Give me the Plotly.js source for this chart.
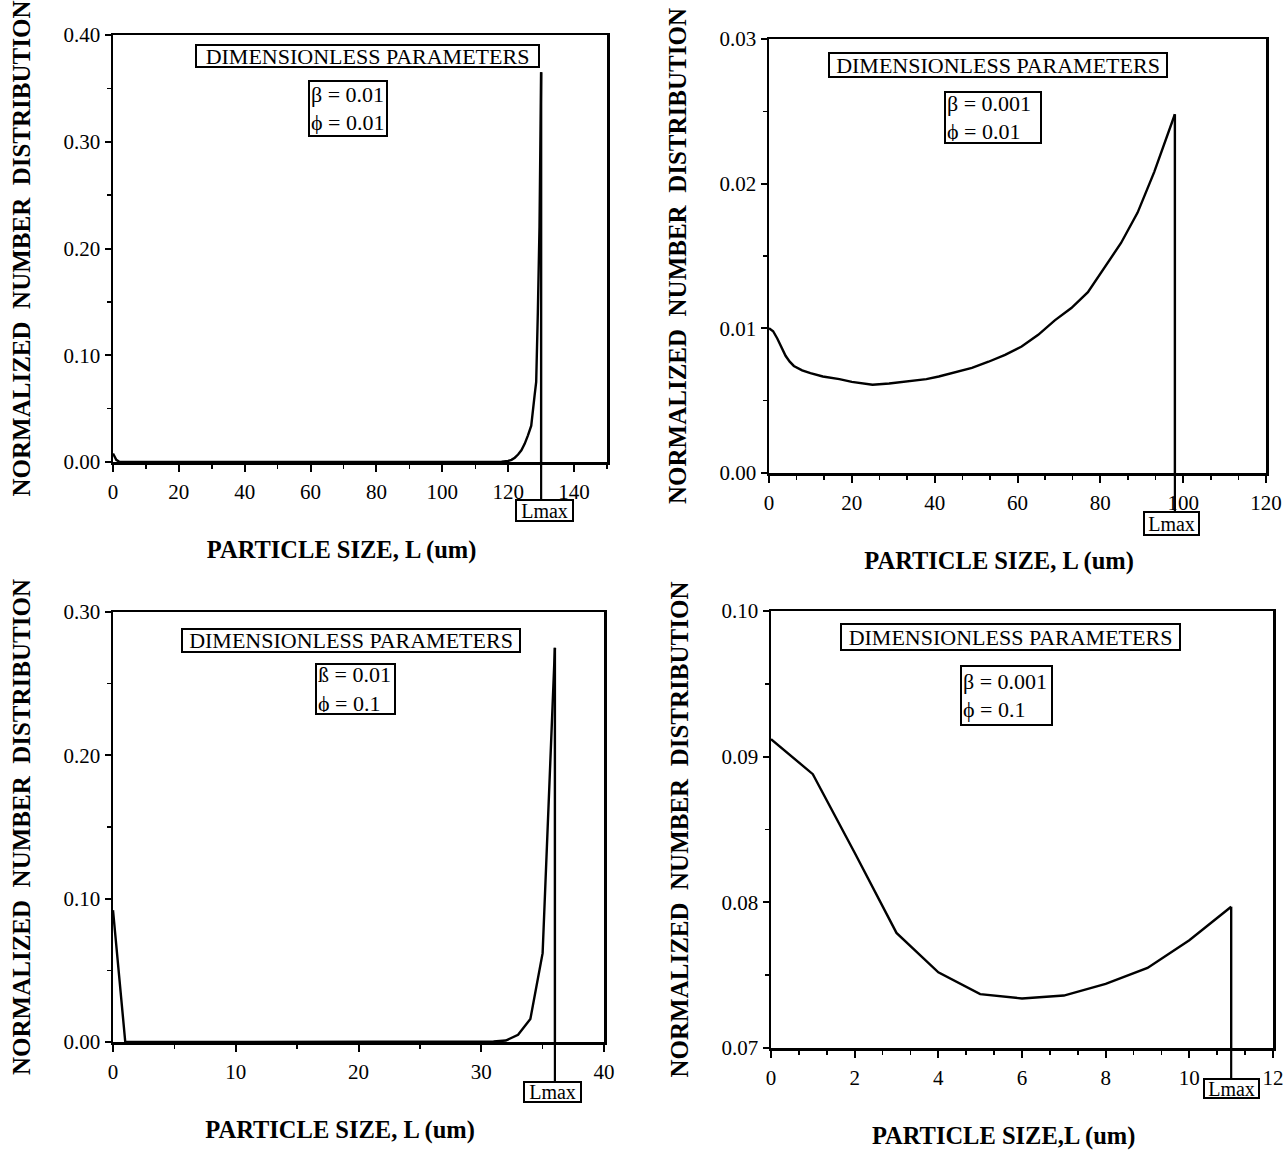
<!DOCTYPE html>
<html>
<head>
<meta charset="utf-8">
<script src="https://cdn.plot.ly/plotly-3.0.1.min.js"></script>
<style>html,body{margin:0;padding:0;background:#fff;}</style>
</head>
<body>
<div id="chart" style="width:1285px;height:1150px;"></div>
<script>
// ---------------- DATA ----------------
// Panel A: beta = 0.01, phi = 0.01
const L_a = [0, 1, 2, 20, 40, 60, 80, 100, 115, 118, 120, 121, 122, 123, 124, 125, 126, 127, 128, 128.5, 129, 129.5, 130];
const N_a = [0.008, 0.002, 0, 0, 0, 0, 0, 0, 0, 0.0003, 0.001, 0.002, 0.004, 0.007, 0.011, 0.017, 0.025, 0.034, 0.062, 0.075, 0.14, 0.22, 0.365];
const Lmax_a = 130;

// Panel B: beta = 0.001, phi = 0.01
const L_b = [0, 1, 2, 3, 4, 5, 6, 8, 10, 13, 17, 20, 25, 29, 33, 38, 41, 45, 49, 53, 57, 61, 65, 69, 73, 77, 81, 85, 89, 93, 98];
const N_b = [0.0100, 0.0098, 0.0093, 0.0087, 0.0081, 0.0077, 0.0074, 0.0071, 0.0069, 0.00667, 0.00649, 0.00630, 0.0061, 0.00619, 0.00631, 0.00649, 0.00667, 0.00699, 0.00727, 0.00769, 0.00817, 0.00874, 0.00955, 0.01055, 0.0114, 0.01250, 0.01420, 0.01590, 0.01800, 0.02080, 0.0248];
const Lmax_b = 98;

// Panel C: beta = 0.01, phi = 0.1
const L_c = [0, 1, 5, 10, 15, 20, 25, 30, 31, 32, 33, 34, 35, 36];
const N_c = [0.092, 0, 0, 0, 0, 0, 0, 0, 0.0003, 0.001, 0.005, 0.016, 0.062, 0.275];
const Lmax_c = 36;

// Panel D: beta = 0.001, phi = 0.1
const L_d = [0, 1, 2, 3, 4, 5, 6, 7, 8, 9, 10, 11];
const N_d = [0.0912, 0.0888, 0.0834, 0.0779, 0.0752, 0.0737, 0.0734, 0.0736, 0.0744, 0.0755, 0.0774, 0.0797];
const Lmax_d = 11;

// Texts
const betaText = ['β = 0.01', 'β = 0.001', 'ß = 0.01', 'β = 0.001'];
const phiText  = ['ϕ = 0.01', 'ϕ = 0.01', 'ϕ = 0.1', 'ϕ = 0.1'];
const boxTitle = 'DIMENSIONLESS PARAMETERS';
const lmaxText = 'Lmax';
const yTitle = 'NORMALIZED\u00a0\u00a0NUMBER\u00a0\u00a0DISTRIBUTION';
const xTitles = ['PARTICLE SIZE, L (um)', 'PARTICLE SIZE, L (um)', 'PARTICLE SIZE, L (um)', 'PARTICLE SIZE,L (um)'];

// Axis ranges / ticks
const xRanges = [[0, 150], [0, 120], [0, 40], [0, 12]];
const xDtick  = [20, 20, 10, 2];
const xMinor  = [10, 20 / 3, 5, 2 / 3];
const yRanges = [[0, 0.40], [0, 0.03], [0, 0.30], [0.07, 0.10]];
const yDtick  = [0.10, 0.01, 0.10, 0.01];
const yMinor  = [0.05, 0.005, 0.05, 0.005];

const series = [
  {L: L_a, N: N_a, Lmax: Lmax_a},
  {L: L_b, N: N_b, Lmax: Lmax_b},
  {L: L_c, N: N_c, Lmax: Lmax_c},
  {L: L_d, N: N_d, Lmax: Lmax_d}
];

// ---------------- LAYOUT GEOMETRY (pixels) ----------------
const W = 1285, H = 1150;
const fx = px => px / W;
const fy = py => 1 - py / H;
const FONT = 'Liberation Serif, Times New Roman, serif';
const PAD = '\u00a0'.repeat(6); // shifts the x titles slightly left, as in the original

const geo = [
  {x0: 113, x1: 607, y0: 35,  y1: 462,  dp: [195, 44, 345, 24],  pb: [308, 80, 80, 57],  lm: [515, 499, 59, 23]},
  {x0: 769, x1: 1266, y0: 39, y1: 473,  dp: [828, 52, 340, 26],  pb: [944, 91, 98, 53],  lm: [1143, 511, 57, 25]},
  {x0: 113, x1: 604, y0: 612, y1: 1042, dp: [181, 628, 340, 25], pb: [315, 663, 81, 52], lm: [523, 1081, 59, 22]},
  {x0: 771, x1: 1273, y0: 611, y1: 1048, dp: [840, 623, 341, 28], pb: [960, 665, 93, 61], lm: [1203, 1078, 57, 21]}
];

const traces = [];
const layout = {
  width: W, height: H,
  margin: {l: 0, r: 0, t: 0, b: 0},
  paper_bgcolor: '#fff', plot_bgcolor: '#fff',
  showlegend: false,
  font: {family: FONT, color: '#000'},
  shapes: [], annotations: []
};

series.forEach((s, i) => {
  const n = i + 1;
  const sfx = n === 1 ? '' : String(n);
  const g = geo[i];
  const xa = 'x' + sfx, ya = 'y' + sfx;

  traces.push({
    x: s.L, y: s.N, xaxis: xa, yaxis: ya, type: 'scatter', mode: 'lines',
    line: {color: '#000', width: 2.4}, hoverinfo: 'skip'
  });
  // Lmax drop line from the last value down to the axis
  const peak = s.N[s.N.length - 1];
  traces.push({
    x: [s.Lmax, s.Lmax], y: [peak, yRanges[i][0]], xaxis: xa, yaxis: ya,
    type: 'scatter', mode: 'lines', line: {color: '#000', width: 2.4}, hoverinfo: 'skip'
  });

  layout['xaxis' + sfx] = {
    domain: [fx(g.x0), fx(g.x1)], anchor: ya, range: xRanges[i], dtick: xDtick[i], tick0: 0,
    ticks: 'outside', ticklen: 7, tickwidth: 2, tickcolor: '#000', ticklabelstandoff: 2,
    showline: true, mirror: true, linecolor: '#000', linewidth: 2.5,
    showgrid: false, zeroline: false, fixedrange: true,
    minor: {dtick: xMinor[i], tick0: 0, ticks: 'outside', ticklen: 4, tickwidth: 1.5, tickcolor: '#000', showgrid: false},
    tickfont: {family: FONT, size: 21, color: '#000'},
    title: {text: '<b>' + xTitles[i] + PAD + '</b>', font: {family: FONT, size: 24.5, color: '#000'}, standoff: 38}
  };
  layout['yaxis' + sfx] = {
    domain: [fy(g.y1), fy(g.y0)], anchor: xa, range: yRanges[i], dtick: yDtick[i], tick0: 0,
    tickformat: '.2f',
    ticks: 'outside', ticklen: 6, tickwidth: 2, tickcolor: '#000',
    showline: true, mirror: true, linecolor: '#000', linewidth: 2.5,
    showgrid: false, zeroline: false, fixedrange: true,
    minor: {dtick: yMinor[i], tick0: 0, ticks: 'outside', ticklen: 4, tickwidth: 1.5, tickcolor: '#000', showgrid: false},
    tickfont: {family: FONT, size: 21, color: '#000'},
    title: {text: '<b>' + yTitle + '</b>', font: {family: FONT, size: 25, color: '#000'}, standoff: 26}
  };

  // Lmax extension below the axis to its label box
  layout.shapes.push({
    type: 'line', xref: xa, yref: 'paper', x0: s.Lmax, x1: s.Lmax,
    y0: fy(g.y1), y1: fy(g.lm[1]), line: {color: '#000', width: 2.2}, layer: 'below'
  });

  // "DIMENSIONLESS PARAMETERS" box
  layout.annotations.push({
    xref: 'paper', yref: 'paper', x: fx(g.dp[0]), y: fy(g.dp[1]), xanchor: 'left', yanchor: 'top',
    text: boxTitle, showarrow: false, bgcolor: '#fff', bordercolor: '#000', borderwidth: 2, borderpad: 0,
    width: g.dp[2] - 4, height: g.dp[3] - 4, font: {family: FONT, size: 22, color: '#000'}
  });
  // beta / phi box
  layout.annotations.push({
    xref: 'paper', yref: 'paper', x: fx(g.pb[0]), y: fy(g.pb[1]), xanchor: 'left', yanchor: 'top',
    text: betaText[i] + '<br>' + phiText[i], align: 'left', showarrow: false, bgcolor: '#fff',
    bordercolor: '#000', borderwidth: 2, borderpad: 1,
    width: g.pb[2] - 6, height: g.pb[3] - 6, font: {family: FONT, size: 22, color: '#000'}
  });
  // Lmax label box
  layout.annotations.push({
    xref: 'paper', yref: 'paper', x: fx(g.lm[0]), y: fy(g.lm[1]), xanchor: 'left', yanchor: 'top',
    text: lmaxText, showarrow: false, bgcolor: '#fff', bordercolor: '#000', borderwidth: 2, borderpad: 0,
    width: g.lm[2] - 4, height: g.lm[3] - 4, font: {family: FONT, size: 20, color: '#000'}
  });
});

Plotly.newPlot('chart', traces, layout, {displayModeBar: false, staticPlot: true});
</script>
</body>
</html>
